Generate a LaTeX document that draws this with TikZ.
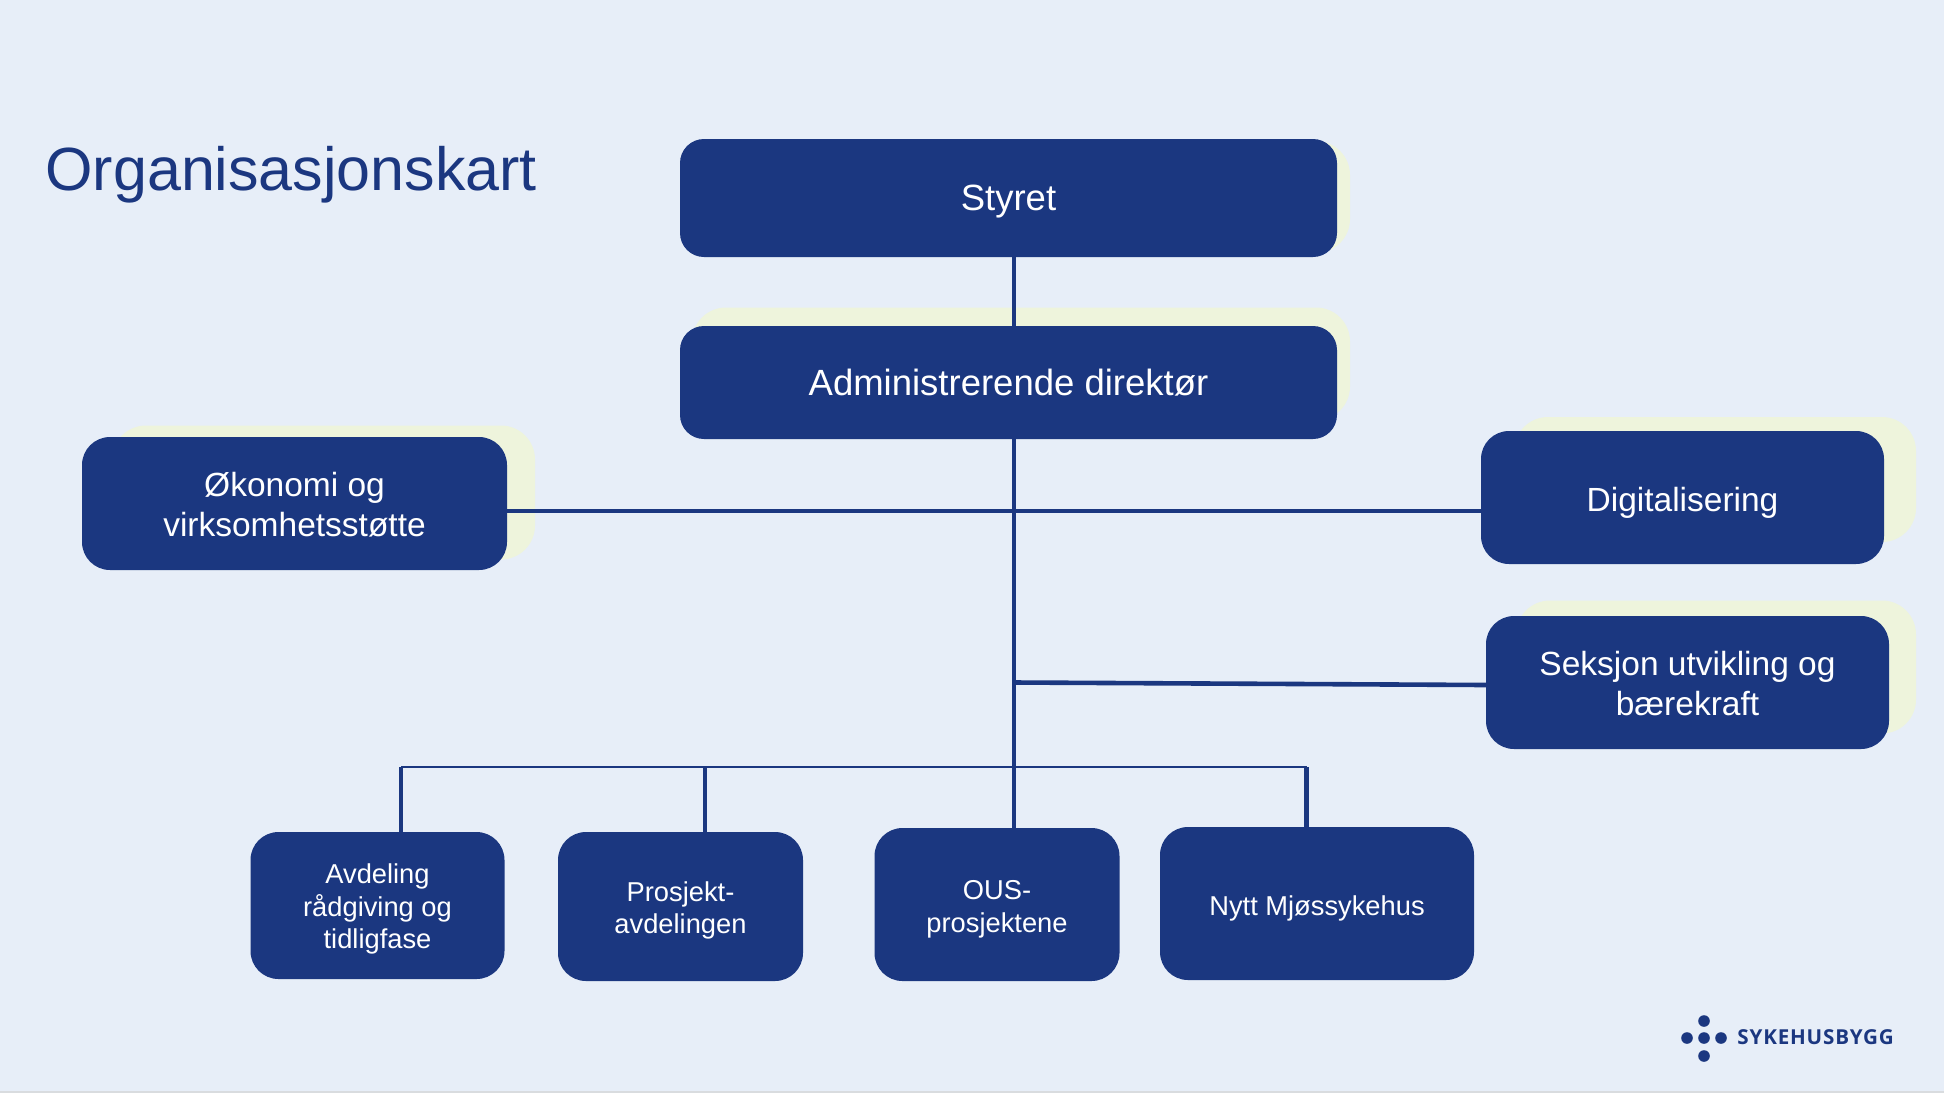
\documentclass[tikz,border=0pt]{standalone}
\usepackage{fontspec}
\setmainfont{Liberation Sans}
\newfontfamily\logofont[LetterSpace=4]{Open Sans}
\definecolor{pageBlue}{RGB}{231, 238, 248}
\definecolor{boxBlue}{RGB}{27, 55, 128}
\definecolor{backGreen}{RGB}{238, 244, 220}
\definecolor{stripGray}{RGB}{217, 220, 223}
\usetikzlibrary{positioning}

\begin{document}
\begin{tikzpicture}[
        x=0.5pt,y=-0.5pt,
        unit/.style={rounded corners=14pt,fill=boxBlue,inner sep=0pt,outer sep=0pt},
        topunit/.style={unit,rounded corners=12pt},
        words/.style={text=white,align=center,inner sep=0pt},
        topwords/.style={words,font=\fontsize{18.25}{22}\selectfont},
        sidewords/.style={words,font=\fontsize{16.75}{20.2}\selectfont},
        lowwords/.style={words,font=\fontsize{13.65}{16.25}\selectfont},
        backing/.style={rounded corners=17pt,fill=backGreen,inner sep=0pt,outer sep=0pt},
        link/.style={draw=boxBlue,line width=2.3pt},
        thinlink/.style={draw=boxBlue,line width=1.35pt}
    ]
    \fill[pageBlue] (0,0) rectangle (1944,1093);
    \fill[stripGray] (0,1091) rectangle (1944,1093);

    % green cards behind the boxes
    \node[backing,minimum width=315pt,minimum height=56pt] (styretBack) at (1035,197) {};
    \node[backing,minimum width=329pt,minimum height=56.5pt] (direktorBack) at (1021,364) {};
    \node[backing,minimum width=211.5pt,minimum height=67pt] (okonomiBack) at (323.5,492.5) {};
    \node[backing,minimum width=201pt,minimum height=62.5pt] (digitalBack) at (1715,479.5) {};
    \node[backing,minimum width=200pt,minimum height=66.5pt] (seksjonBack) at (1716,667) {};

    \node[text=boxBlue,anchor=base west,inner sep=0pt,font=\fontsize{30.5}{36}\selectfont] (title) at (45,190) {Organisasjonskart};

    \node[topunit,minimum width=328.5pt,minimum height=59pt] (styret) at (1008.5,198) {};
    \node[topunit,minimum width=328.5pt,minimum height=56.5pt] (direktor) at (1008.5,382.5) {};
    \node[unit,minimum width=212.5pt,minimum height=66.5pt] (okonomi) at (294.5,503.5) {};
    \node[unit,minimum width=201.5pt,minimum height=66.5pt] (digital) at (1682.5,497.5) {};
    \node[unit,minimum width=201.5pt,minimum height=66.5pt] (seksjon) at (1687.5,682.5) {};
    \node[unit,minimum width=127pt,minimum height=73.5pt] (avdeling) at (377.5,905.5) {};
    \node[unit,minimum width=122.5pt,minimum height=74.5pt] (prosjekt) at (680.5,906.5) {};
    \node[unit,minimum width=122.5pt,minimum height=76.5pt] (ous) at (997,904.5) {};
    \node[unit,minimum width=157pt,minimum height=76.5pt] (nytt) at (1317,903.5) {};

    \node[topwords] (styretText) at ([yshift=-1.86pt]styret.center) {Styret};
    \node[topwords] (direktorText) at (direktor.center) {Administrerende direktør};
    \node[sidewords] (okonomiText) at ([yshift=-0.62pt]okonomi.center) {Økonomi og\\virksomhetsstøtte};
    \node[sidewords] (digitalText) at ([yshift=-2.48pt]digital.center) {Digitalisering};
    \node[sidewords] (seksjonText) at ([yshift=-0.62pt]seksjon.center) {Seksjon utvikling og\\bærekraft};
    \node[lowwords] (avdelingText) at ([yshift=-1.86pt]avdeling.center) {Avdeling\\rådgiving og\\tidligfase};
    \node[lowwords] (prosjektText) at ([yshift=-1.86pt]prosjekt.center) {Prosjekt-\\avdelingen};
    \node[lowwords] (ousText) at ([yshift=-2.48pt]ous.center) {OUS-\\prosjektene};
    \node[lowwords] (nyttText) at ([yshift=-2.48pt]nytt.center) {Nytt Mjøssykehus};

    \coordinate (hub) at (1014,511);
    \coordinate (branch) at (1014,682.5);
    \coordinate (barL) at (401,767);
    \coordinate (barM) at (705,767);
    \coordinate (barR) at (1306.5,767);

    \draw[link] (styret.south -| hub) -- (direktor.north -| hub);
    \draw[link] (direktor.south -| hub) -- (ous.north -| hub);
    \draw[link] (okonomi.east |- hub) -- (digital.west |- hub);
    \draw[link] (branch) -- ([yshift=-1.25pt]seksjon.west);
    \draw[thinlink] (barL) -- (barR);
    \draw[link] (barL) -- (barL |- avdeling.north);
    \draw[link] (barM) -- (barM |- prosjekt.north);
    \draw[link] (barR) -- (barR |- nytt.north);

    % logo
    \foreach \dotx/\doty in {1704/1021,1687/1038,1704/1038,1721/1038,1704/1056}
        \fill[boxBlue] (\dotx,\doty) circle (5.8);
    \node[text=boxBlue,anchor=base west,inner sep=0pt,font=\logofont\bfseries\fontsize{10.3}{12}\selectfont] (logo) at (1737,1044) {SYKEHUSBYGG};
\end{tikzpicture}
\end{document}
